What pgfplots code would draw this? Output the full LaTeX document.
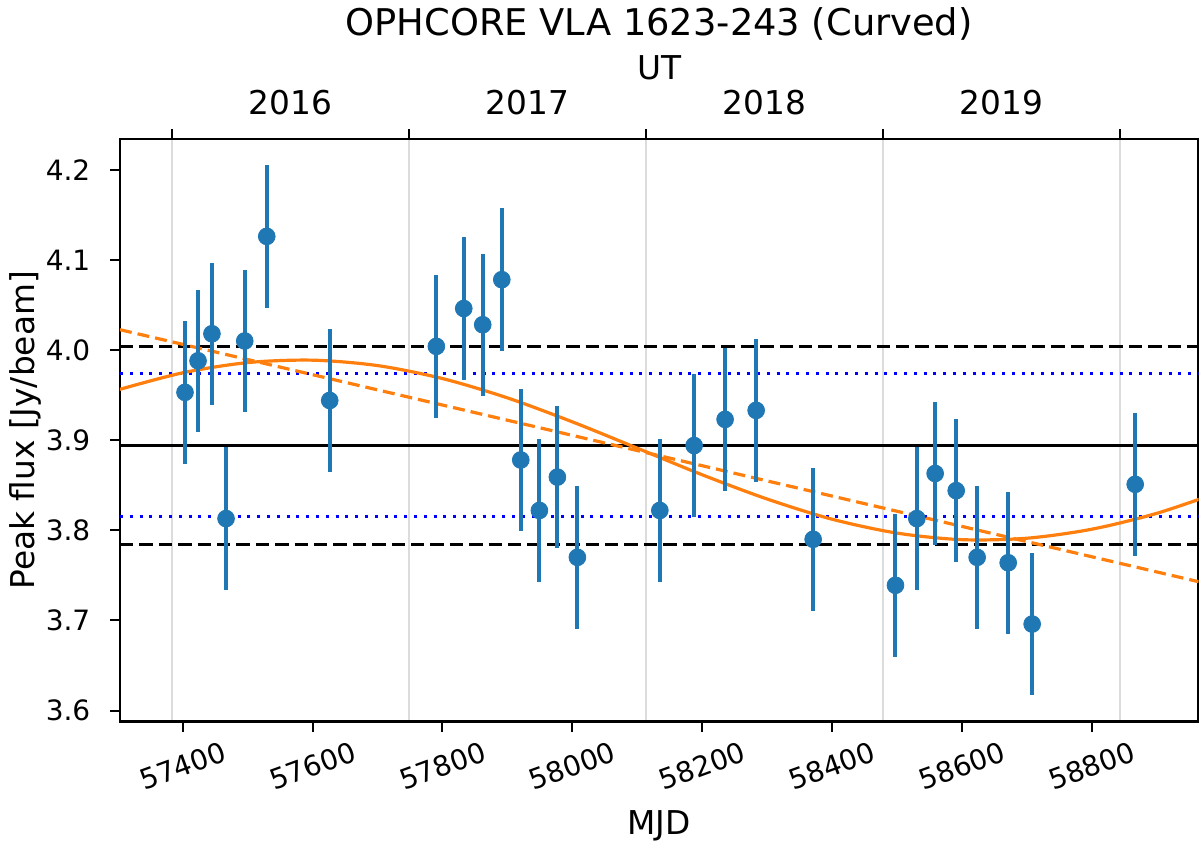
\documentclass[border=0pt]{standalone}
\usepackage{pgfplots}
\usepackage{pgfplotstable}
\pgfplotsset{compat=1.18}
\usepackage{fontspec}
\setmainfont{DejaVu Sans}
\definecolor{cblue}{HTML}{1F77B4}
\definecolor{corange}{HTML}{FF7F0E}
\definecolor{gridgray}{HTML}{DCDCDC}

\pgfplotstableread{
x y ey
57403.5 3.953 0.079
57423.6 3.988 0.079
57445.0 4.018 0.079
57466.7 3.813 0.079
57495.5 4.010 0.079
57529.4 4.126 0.079
57626.4 3.944 0.079
57790.6 4.004 0.079
57832.8 4.046 0.079
57862.0 4.028 0.079
57891.4 4.078 0.079
57920.6 3.878 0.079
57949.3 3.822 0.079
57977.0 3.859 0.079
58007.8 3.770 0.079
58134.8 3.822 0.079
58187.6 3.894 0.079
58235.3 3.923 0.079
58283.1 3.933 0.079
58370.9 3.790 0.079
58497.7 3.739 0.079
58530.6 3.813 0.079
58558.8 3.863 0.079
58591.2 3.844 0.079
58623.5 3.770 0.079
58671.3 3.764 0.079
58708.2 3.696 0.079
58866.9 3.851 0.079
}\datatable

\pgfplotstableread{
x y
57300 3.9557
57400 3.9747
57500 3.9860
57600 3.9887
57700 3.9827
57800 3.9683
57900 3.9469
58000 3.9203
58100 3.8911
58200 3.8616
58300 3.8347
58400 3.8123
58500 3.7969
58600 3.7896
58700 3.7912
58800 3.8012
58900 3.8188
59000 3.8431
}\curvedfit

\begin{document}
\begin{tikzpicture}
\path[use as bounding box] (-60pt,-59.65pt) rectangle (539.5pt,360.85pt);
% top (UT) axis
\begin{axis}[
  at={(0,0)}, anchor=south west,
  scale only axis, width=539.25pt, height=291.35pt,
  xmin=57303.4, xmax=58964.4, ymin=3.5877, ymax=4.234,
  scaled x ticks=false, scaled y ticks=false,
  axis x line*=top, hide y axis,
  axis line style={line width=1.25pt},
  xtick={57383,57748,58113,58478,58843}, xticklabels={},
  extra x ticks={57565.5,57930.5,58295.5,58660.5},
  extra x tick labels={2016,2017,2018,2019},
  extra x tick style={xmajorgrids=false, major tick length=0pt},
  xmajorgrids, major grid style={gridgray, line width=1pt},
  tick align=outside, major tick length=5pt,
  tick style={black, line width=1pt},
  xticklabel style={font=\fontsize{16.4}{18}\selectfont, anchor=base, yshift=12.35pt},
  xlabel={UT},
  xlabel style={font=\fontsize{16.4}{18}\selectfont, at={(axis description cs:0.5,1)}, anchor=base, yshift=30pt},
  title={OPHCORE VLA 1623-243 (Curved)},
  title style={font=\fontsize{18.4}{20}\selectfont, at={(axis description cs:0.5,1)}, anchor=base, yshift=46pt},
]
\addplot[draw=none] coordinates {(57400,3.9)};
\end{axis}
% main axis
\begin{axis}[
  at={(0,0)}, anchor=south west,
  scale only axis, width=539.25pt, height=291.35pt,
  xmin=57303.4, xmax=58964.4, ymin=3.5877, ymax=4.234,
  scaled x ticks=false, scaled y ticks=false,
  axis line style={line width=1.25pt},
  xtick={57400,57600,57800,58000,58200,58400,58600,58800},
  xticklabels={57400,57600,57800,58000,58200,58400,58600,58800},
  ytick={3.6,3.7,3.8,3.9,4.0,4.1,4.2},
  yticklabels={3.6,3.7,3.8,3.9,4.0,4.1,4.2},
  xtick pos=left, ytick pos=left,
  tick align=outside, major tick length=5pt,
  tick style={black, line width=1pt},
  /pgf/number format/assume math mode=true,
  xticklabel shift=17pt,
  xticklabel style={font=\fontsize{14}{16}\selectfont, rotate=20, anchor=center},
  yticklabel style={font=\fontsize{14}{16}\selectfont, anchor=east, inner sep=0pt, xshift=-9.65pt},
  xlabel={MJD},
  xlabel style={font=\fontsize{16.4}{18}\selectfont, at={(axis description cs:0.5,0)}, anchor=base, yshift=-56.6pt},
  ylabel={Peak flux [Jy/beam]},
  ylabel style={font=\fontsize{16.4}{18}\selectfont, at={(axis description cs:-0.0872,0.5)}, anchor=center},
]
\addplot[black, line width=1.5pt, forget plot] coordinates {(57303.4,3.8946) (58964.4,3.8946)};
\addplot[black, line width=1.5pt, dash pattern=on 6.7pt off 3pt, forget plot] coordinates {(57303.4,4.0041) (58964.4,4.0041)};
\addplot[black, line width=1.5pt, dash pattern=on 6.7pt off 3pt, forget plot] coordinates {(57303.4,3.7840) (58964.4,3.7840)};
\addplot[blue, line width=1.5pt, dash pattern=on 1.5pt off 3.4pt, forget plot] coordinates {(57303.4,3.9734) (58964.4,3.9734)};
\addplot[blue, line width=1.5pt, dash pattern=on 1.5pt off 3.4pt, forget plot] coordinates {(57303.4,3.8148) (58964.4,3.8148)};
\addplot[corange, line width=1.6pt, smooth, forget plot] table[x=x, y=y] {\curvedfit};
\addplot[corange, line width=1.6pt, dash pattern=on 6pt off 3pt, forget plot] coordinates {(57303.4,4.0225) (58964.4,3.7430)};
\addplot[cblue, only marks, mark=*, mark size=4.2pt,
  mark options={draw=cblue, fill=cblue},
  error bars/.cd, y dir=both, y explicit,
  error bar style={line width=2pt, cblue}, error mark=none]
  table[x=x, y=y, y error=ey] {\datatable};
\end{axis}
\end{tikzpicture}
\end{document}
